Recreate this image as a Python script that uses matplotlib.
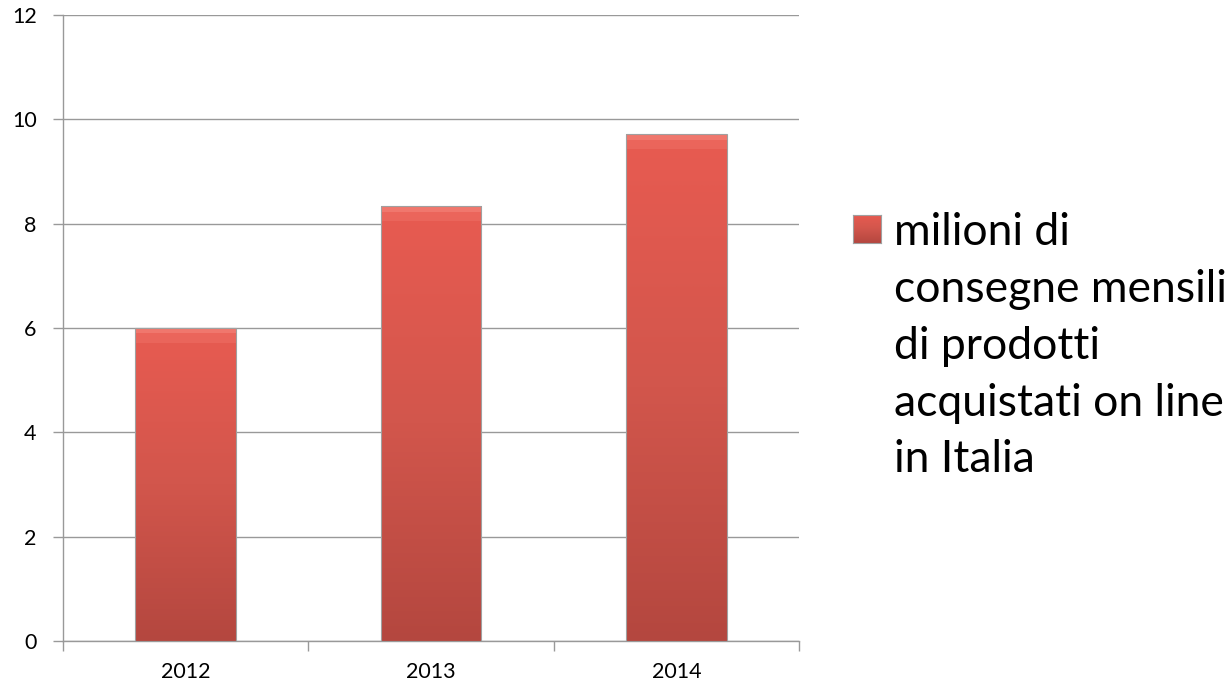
import matplotlib
matplotlib.use("Agg")
import matplotlib.pyplot as plt
import numpy as np
from matplotlib.colors import LinearSegmentedColormap
from matplotlib.patches import Rectangle

years = ["2012", "2013", "2014"]
values = [6.0, 8.33, 9.71]
legend_label = "milioni di\nconsegne mensili\ndi prodotti\nacquistati on line\nin Italia"
yticks = [0, 2, 4, 6, 8, 10, 12]

plt.rcParams['font.family'] = ['Lato', 'DejaVu Sans']

W, H = 1232, 687
fig = plt.figure(figsize=(W/100, H/100), dpi=100)
ax = fig.add_axes([63/W, 1-641/H, (799-63)/W, (641-15)/H])

cmap = LinearSegmentedColormap.from_list("bar", ["#b4473f", "#d2564c", "#e85b51"])
grad = np.linspace(0, 1, 256).reshape(-1, 1)

x = np.arange(len(years))
bars = ax.bar(x, values, width=0.41, color="none", edgecolor="none", zorder=3)
for b in bars:
    x0, w, h = b.get_x(), b.get_width(), b.get_height()
    im = ax.imshow(grad, cmap=cmap, aspect="auto", origin="lower",
                   extent=(x0, x0 + w, 0, h), zorder=3)
    im.set_clip_path(b)
    ax.add_patch(Rectangle((x0, h - 0.28), w, 0.28, facecolor="#f47c72",
                           edgecolor="none", alpha=0.35, zorder=4))
    ax.add_patch(Rectangle((x0, h - 0.1), w, 0.1, facecolor="#f58a80",
                           edgecolor="none", alpha=0.5, zorder=4))
    ax.add_patch(Rectangle((x0, 0), w, h, facecolor="none",
                           edgecolor="#a0a0a0", linewidth=0.8, zorder=5))

ax.set_xlim(-0.5, len(years) - 0.5)
ax.set_ylim(0, 12)
ax.set_yticks(yticks)
ax.set_yticklabels([str(t) for t in yticks], fontsize=15.5)
ax.set_xticks(x)
ax.set_xticklabels(years, fontsize=15.5)
ax.set_xticks(np.arange(len(years) + 1) - 0.5, minor=True)
ax.tick_params(axis='x', which='major', length=0, pad=15)
ax.tick_params(axis='x', which='minor', length=7, color="#999999", width=1)
ax.tick_params(axis='y', length=7, color="#999999", width=1, pad=12)
ax.grid(axis='y', color="#999999", linewidth=1, zorder=0)
for s in ["top", "right"]:
    ax.spines[s].set_visible(False)
for s in ["left", "bottom"]:
    ax.spines[s].set_color("#999999")
    ax.spines[s].set_linewidth(1)

# legend
lax = fig.add_axes([853/W, 1-243/H, 28/W, 28/H])
lax.imshow(grad, cmap=cmap, aspect="auto", origin="lower", extent=(0, 1, 0, 1))
lax.set_xlim(0, 1); lax.set_ylim(0, 1)
lax.set_xticks([]); lax.set_yticks([])
for s in lax.spines.values():
    s.set_color("#a0a0a0")
fig.text(894/W, 1-212/H, legend_label, fontsize=32, va="top", ha="left",
         linespacing=1.48)

fig.savefig("out.png", dpi=100)
